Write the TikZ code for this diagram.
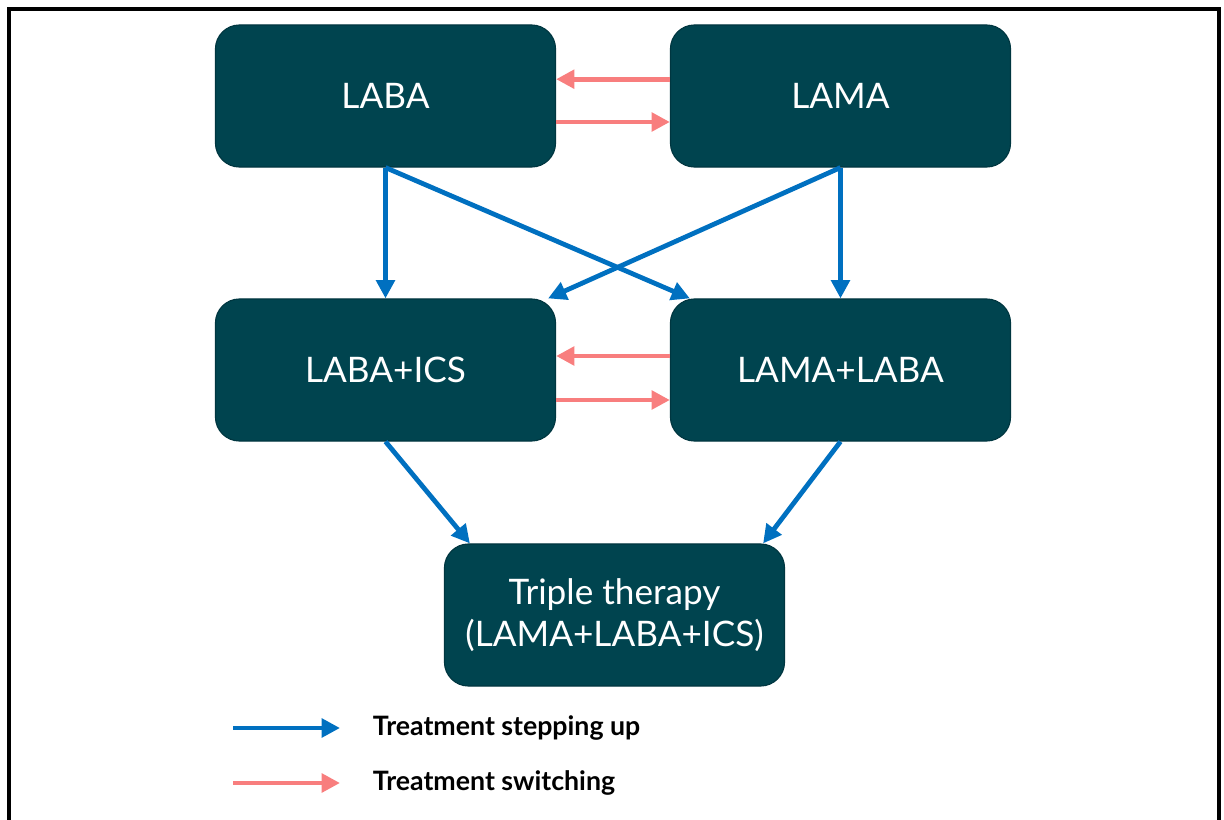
\documentclass[tikz,border=0pt]{standalone}
\usepackage{fontspec}
\setmainfont{Lato}
\usepackage{xcolor}
\usetikzlibrary{arrows.meta}
\definecolor{b1}{HTML}{00444F}
\definecolor{b2}{HTML}{003640}
\definecolor{u1}{HTML}{0070C0}
\definecolor{r1}{HTML}{F87E7E}

\tikzset{
  drug/.style={rounded corners=0.6cm, fill=b1, draw=b2, line width=0.8pt, minimum width=8.5cm, minimum height=3.55cm, text=white, align=center, font=\fontsize{25}{29.5}\selectfont},
  stepup/.style={u1, line width=3.4pt, -{Triangle[length=13pt,width=13pt]}},
  switch/.style={r1, line width=3.4pt, -{Triangle[length=13pt,width=13pt]}},
  legtxt/.style={anchor=west, font=\fontsize{19}{21}\selectfont\bfseries}
}

\begin{document}
\begin{tikzpicture}[x=0.025cm, y=-0.025cm]
	\useasboundingbox (0,0) rectangle (1224,820);
	\draw [line width=2.2pt] (9,820)--(9,9)--(1219,9)--(1219,820); %外框,底边不画
	\node[drug] (laba) at (385.5,96) {LABA};
	\node[drug] (lama) at (840.5,96) {LAMA};
	\node[drug] (labaics) at (385.5,370) {LABA+ICS};
	\node[drug] (lamalaba) at (840.5,370) {LAMA+LABA};
	\node[drug] (triple) at (614.5,615) {Triple therapy\\(LAMA+LABA+ICS)};
	\draw [switch] ([yshift=0.42cm]lama.west) -- ([yshift=0.42cm]laba.east);
	\draw [switch] ([yshift=-0.65cm]laba.east) -- ([yshift=-0.65cm]lama.west);
	\draw [switch] ([yshift=0.35cm]lamalaba.west) -- ([yshift=0.35cm]labaics.east);
	\draw [switch] ([yshift=-0.75cm]labaics.east) -- ([yshift=-0.75cm]lamalaba.west);
	\draw [stepup] (laba.south) -- (labaics.north);
	\draw [stepup] (laba.south) -- ([xshift=0.5cm]lamalaba.north west);
	\draw [stepup] (lama.south) -- ([xshift=-0.2cm]labaics.north east);
	\draw [stepup] (lama.south) -- (lamalaba.north);
	\draw [stepup] (labaics.south) -- ([xshift=0.65cm]triple.north west);
	\draw [stepup] (lamalaba.south) -- ([xshift=-0.55cm]triple.north east);
	% legend
	\coordinate (l1a) at (233,728); \coordinate (l1b) at (340,728);
	\coordinate (l2a) at (233,783); \coordinate (l2b) at (340,783);
	\draw [stepup] (l1a) -- (l1b);
	\draw [switch] (l2a) -- (l2b);
	\node[legtxt] (legup) at (368,728) {Treatment stepping up};
	\node[legtxt] (legsw) at (368,783) {Treatment switching};
\end{tikzpicture}
\end{document}
